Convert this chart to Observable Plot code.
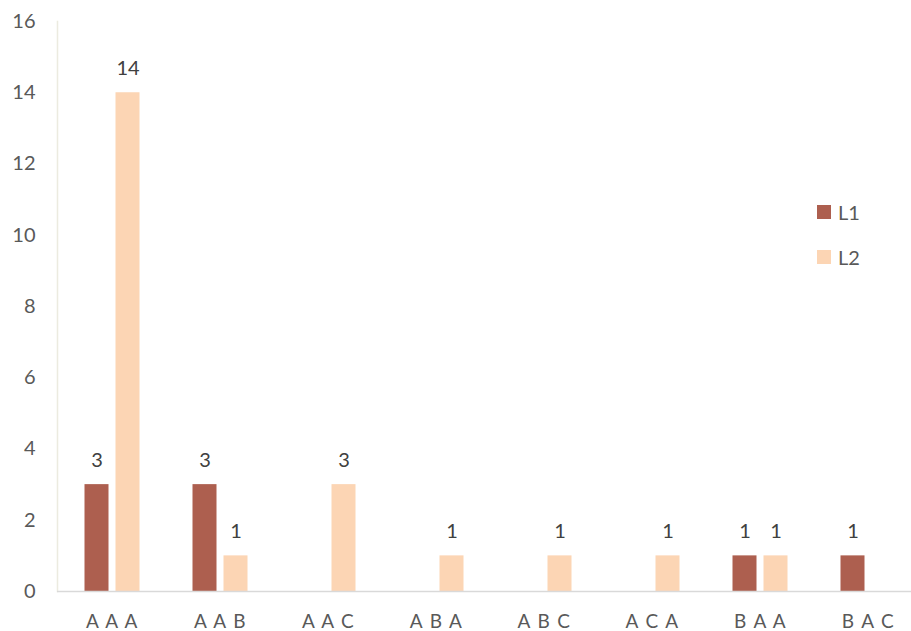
<!DOCTYPE html>
<html>
<head>
<meta charset="utf-8">
<script src="https://cdn.jsdelivr.net/npm/d3@7"></script>
<script src="https://cdn.jsdelivr.net/npm/@observablehq/plot@0.6"></script>
<style>
  html, body { margin: 0; padding: 0; background: #fff; }
  #wrap { position: relative; width: 911px; height: 631px; overflow: hidden; font-family: Lato, "Open Sans", sans-serif; }
  #legend { position: absolute; left: 817px; top: 199px; font-size: 20px; color: #595959; }
  #legend .item { display: flex; align-items: center; height: 26px; margin-bottom: 19px; }
  #legend .sw { width: 14px; height: 14px; margin-right: 7px; }
  .xax text { letter-spacing: 1.4px; }
</style>
</head>
<body>
<div id="wrap"><div id="legend"></div></div>
<script>
const categories = ["A A A", "A A B", "A A C", "A B A", "A B C", "A C A", "B A A", "B A C"];
const seriesNames = ["L1", "L2"];
const L1 = [3, 3, 0, 0, 0, 0, 1, 1];
const L2 = [14, 1, 3, 1, 1, 1, 1, 0];
const yTicks = [0, 2, 4, 6, 8, 10, 12, 14, 16];
const colors = ["#ad5f4f", "#fcd5b4"];

const rows = [];
categories.forEach((c, i) => {
  rows.push({cat: c, series: "L1", value: L1[i]});
  rows.push({cat: c, series: "L2", value: L2[i]});
});
const nonZero = rows.filter(d => d.value > 0);
const s1 = nonZero.filter(d => d.series === "L1");
const s2 = nonZero.filter(d => d.series === "L2");

const chart = Plot.plot({
  width: 911,
  height: 631,
  marginLeft: 57,
  marginRight: -11,
  marginTop: 21,
  marginBottom: 40,
  style: {fontFamily: "Lato, 'Open Sans', sans-serif", background: "#fff"},
  x: {domain: categories, padding: 0},
  y: {domain: [0, 16]},
  marks: [
    Plot.axisY({ticks: yTicks, tickSize: 0, tickPadding: 22, fontSize: 20, fill: "#595959", label: null}),
    Plot.axisX({tickSize: 0, tickPadding: 23, fontSize: 19, fill: "#595959", label: null, className: "xax"}),
    Plot.frame({anchor: "left", stroke: "#ecebe0", strokeWidth: 1.5}),
    Plot.barY(s1, {x: "cat", y: "value", fill: colors[0], insetLeft: 42, insetRight: 42, dx: -15.5}),
    Plot.barY(s2, {x: "cat", y: "value", fill: colors[1], insetLeft: 42, insetRight: 42, dx: 15.5}),
    Plot.ruleY([0], {stroke: "#d9d9d9", strokeWidth: 1.5}),
    Plot.text(s1, {x: "cat", y: "value", text: d => String(d.value), dx: -15.5, dy: -24, fontSize: 20, fill: "#404040"}),
    Plot.text(s2, {x: "cat", y: "value", text: d => String(d.value), dx: 15.5, dy: -24, fontSize: 20, fill: "#404040"})
  ]
});
const wrap = document.getElementById("wrap");
wrap.insertBefore(chart, wrap.firstChild);

const legend = document.getElementById("legend");
seriesNames.forEach((n, i) => {
  const it = document.createElement("div");
  it.className = "item";
  it.innerHTML = `<div class="sw" style="background:${colors[i]}"></div><span>${n}</span>`;
  legend.appendChild(it);
});
</script>
</body>
</html>
